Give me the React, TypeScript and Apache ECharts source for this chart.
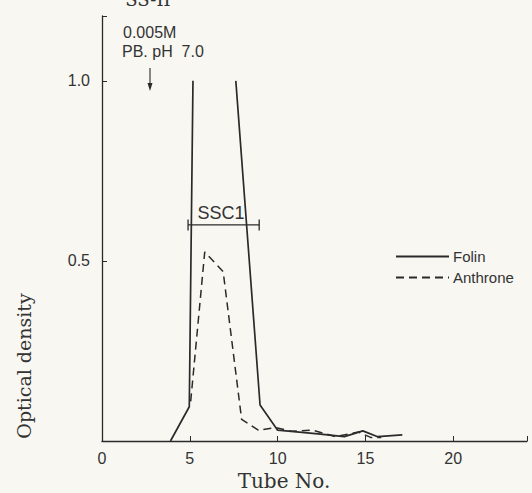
import React, { useEffect, useRef } from 'react';
import * as echarts from 'echarts';

// Tick labels
const xTickValues = [0, 5, 10, 15, 20];
const yTickValues = [0.5, 1.0];

// Folin (solid) – peak runs off the top of the plot (gap marked by null)
const folinTube = [3.9, 4.97, 5.18, 6.5, 7.62, 9.0, 10.0, 12.3, 13.8, 14.85, 15.7, 17.1];
const folinOD: (number | null)[] = [0.0, 0.095, 1.0, null, 1.0, 0.1, 0.03, 0.02, 0.012, 0.028, 0.012, 0.017];

// Anthrone (dashed)
const anthroneTube = [5.05, 5.85, 6.9, 7.95, 8.9, 9.9, 10.8, 12.0, 13.3, 14.6, 15.3, 15.9];
const anthroneOD = [0.11, 0.525, 0.47, 0.06, 0.03, 0.037, 0.027, 0.03, 0.012, 0.025, 0.01, 0.01];

// SSC1 fraction bracket
const ssc1Tubes = [4.9, 8.95];
const ssc1Level = 0.6;

const INK = '#2a2a2a';
const SANS = 'Liberation Sans, Arial, sans-serif';
const SERIF = 'DejaVu Serif, Liberation Serif, serif';

export default function App() {
  const ref = useRef<HTMLDivElement>(null);

  useEffect(() => {
    document.body.style.margin = '0';
    const chart = echarts.init(ref.current!, null, { renderer: 'svg' });

    const folinData = folinTube.map((t, i) => [t, folinOD[i] === null ? '-' : folinOD[i]]);
    const anthroneData = anthroneTube.map((t, i) => [t, anthroneOD[i]]);
    const bracketData = ssc1Tubes.map((t) => [t, ssc1Level]);

    chart.setOption({
      animation: false,
      backgroundColor: '#f8f7f2',
      grid: { left: 102, right: 5, top: 16, bottom: 52 },
      xAxis: {
        type: 'value',
        min: 0,
        max: 24.2,
        interval: 5,
        axisLine: { show: true, lineStyle: { color: INK, width: 1.3 } },
        axisTick: {
          show: true,
          inside: true,
          length: 5,
          lineStyle: { color: INK, width: 1 },
        },
        axisLabel: {
          show: true,
          margin: 9,
          color: '#333',
          fontFamily: SANS,
          fontSize: 16,
          formatter: (v: number) => (xTickValues.includes(v) ? String(v) : ''),
        },
        splitLine: { show: false },
      },
      yAxis: {
        type: 'value',
        min: 0,
        max: 1.18,
        interval: 0.5,
        axisLine: { show: true, lineStyle: { color: INK, width: 1.3 } },
        axisTick: {
          show: true,
          inside: true,
          length: 5,
          lineStyle: { color: INK, width: 1 },
        },
        axisLabel: {
          show: true,
          margin: 12,
          color: '#333',
          fontFamily: SANS,
          fontSize: 16,
          formatter: (v: number) =>
            yTickValues.some((y) => Math.abs(y - v) < 1e-6) ? v.toFixed(1) : '',
        },
        splitLine: { show: false },
      },
      legend: {
        orient: 'vertical',
        left: 390,
        top: 244,
        itemWidth: 53,
        itemHeight: 12,
        itemGap: 6,
        data: ['Folin', 'Anthrone'],
        itemStyle: { opacity: 0 },
        textStyle: { color: '#333', fontFamily: SANS, fontSize: 15, padding: [0, 0, 0, -1] },
      },
      series: [
        {
          name: 'Folin',
          type: 'line',
          data: folinData,
          showSymbol: false,
          symbol: 'none',
          connectNulls: false,
          lineStyle: { color: INK, width: 1.7, type: 'solid' },
          itemStyle: { color: INK },
          z: 3,
        },
        {
          name: 'Anthrone',
          type: 'line',
          data: anthroneData,
          showSymbol: false,
          symbol: 'none',
          lineStyle: { color: INK, width: 1.5, type: [8, 5] },
          itemStyle: { color: INK },
          z: 2,
        },
        {
          name: 'SSC1',
          type: 'line',
          data: bracketData,
          symbol: 'rect',
          symbolSize: [1.3, 11],
          showSymbol: true,
          lineStyle: { color: INK, width: 1.2 },
          itemStyle: { color: INK },
          silent: true,
          label: { show: false },
          z: 4,
        },
      ],
      graphic: [
        {
          type: 'text',
          left: 123,
          top: 24,
          style: { text: '0.005M', fill: '#333', font: `16px ${SANS}` },
        },
        {
          type: 'text',
          left: 122,
          top: 43,
          style: { text: 'PB. pH  7.0', fill: '#333', font: `16px ${SANS}` },
        },
        {
          type: 'line',
          shape: { x1: 150, y1: 68, x2: 150, y2: 86 },
          style: { stroke: INK, lineWidth: 1.1 },
        },
        {
          type: 'polygon',
          shape: { points: [[147.5, 83], [152.5, 83], [150, 91]] },
          style: { fill: INK },
        },
        {
          type: 'text',
          x: 221,
          y: 213,
          style: {
            text: 'SSC1',
            fill: '#333',
            font: `18px ${SANS}`,
            align: 'center',
            verticalAlign: 'middle',
          },
        },
        {
          type: 'text',
          x: 148,
          y: 8,
          style: {
            text: 'SS-II',
            fill: '#333',
            font: `18px ${SERIF}`,
            align: 'center',
            verticalAlign: 'bottom',
          },
        },
        {
          type: 'text',
          x: 284,
          y: 481,
          style: {
            text: 'Tube No.',
            fill: '#333',
            font: `20px ${SERIF}`,
            align: 'center',
            verticalAlign: 'middle',
          },
        },
        {
          type: 'text',
          x: 24,
          y: 366,
          rotation: Math.PI / 2,
          style: {
            text: 'Optical density',
            fill: '#333',
            font: `19px ${SERIF}`,
            align: 'center',
            verticalAlign: 'middle',
          },
        },
      ],
    });

    return () => chart.dispose();
  }, []);

  return (
    <div
      ref={ref}
      style={{ position: 'absolute', left: 0, top: 0, width: 532, height: 493 }}
    />
  );
}
